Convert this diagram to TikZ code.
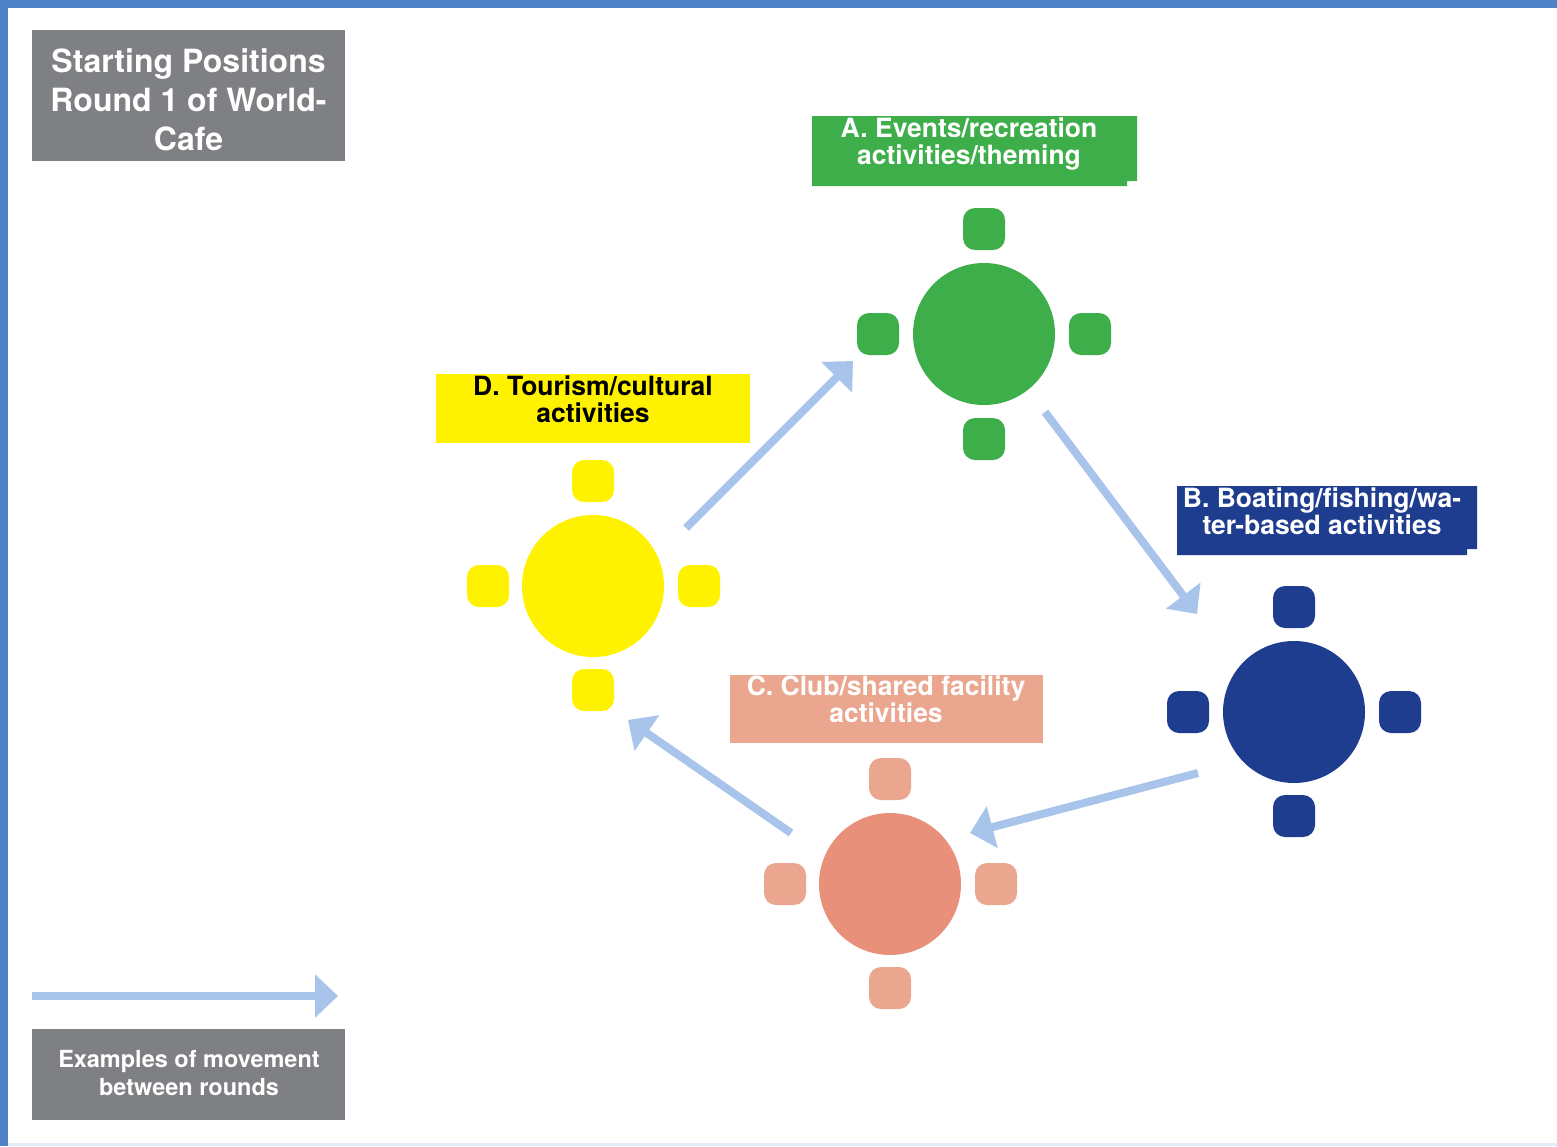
\documentclass[tikz,border=0pt]{standalone}
\usepackage{fontspec}
\setmainfont{TeX Gyre Heros}
\usetikzlibrary{arrows.meta}

\definecolor{frameblue}{HTML}{4F81C7}
\definecolor{boxgrey}{HTML}{7F8083}
\definecolor{tgreen}{HTML}{3DAE49}
\definecolor{tyellow}{HTML}{FFF200}
\definecolor{tnavy}{HTML}{1F3D8F}
\definecolor{tsalmon}{HTML}{E8907A}
\definecolor{lsalmon}{HTML}{EBA690}
\definecolor{arrowblue}{HTML}{A9C4EA}

\tikzset{
  table/.style={circle, fill=#1, minimum size=142pt, inner sep=0pt},
  chair/.style={rectangle, rounded corners=12pt, fill=#1, minimum width=42pt, minimum height=42pt, inner sep=0pt},
  bigtext/.style={text=white, font=\bfseries\fontsize{32}{39}\selectfont, align=center, inner sep=0pt},
  labeltext/.style={font=\bfseries\fontsize{26.5}{27}\selectfont, align=center, inner sep=0pt},
  smalltext/.style={text=white, font=\bfseries\fontsize{23.5}{28}\selectfont, align=center, inner sep=0pt},
  move/.style={draw=arrowblue, line width=8pt, -{Triangle[length=23pt, width=42pt]}},
}

\begin{document}
\begin{tikzpicture}[x=1pt, y=-1pt]
\useasboundingbox (0,0) rectangle (1557,1146);
\fill[white] (0,0) rectangle (1557,1146);

% frame
\fill[frameblue] (0,0) rectangle (1557,8);
\fill[frameblue] (0,0) rectangle (8,1146);
\fill[frameblue!15] (8,1143) rectangle (1557,1146);

% title box
\node[fill=boxgrey, minimum width=313pt, minimum height=131pt, inner sep=0pt] (titlebox) at (188.5,95.5) {};
\node[bigtext] (title) at (188.5,100) {Starting Positions\\Round 1 of World-\\Cafe};

% legend
\coordinate (legS) at (32,996);
\coordinate (legE) at (338,996);
\draw[move] (legS) -- (legE);
\node[fill=boxgrey, minimum width=313pt, minimum height=91pt, inner sep=0pt] (legbox) at (188.5,1074.5) {};
\node[smalltext] (legtext) at (189,1073) {Examples of movement\\between rounds};

% label boxes
\fill[tgreen] (812,116) -- (1137,116) -- (1137,181) -- (1127,181) -- (1127,186) -- (812,186) -- cycle;
\node[labeltext, text=white] (labA) at (969,144) {A. Events/recreation\\activities/theming};

\fill[tnavy] (1177,486) -- (1477,486) -- (1477,549) -- (1467,549) -- (1467,555) -- (1177,555) -- cycle;
\node[labeltext, text=white] (labB) at (1322,511) {B. Boating/fishing/wa-\\ter-based activities};

\node[fill=lsalmon, minimum width=313pt, minimum height=68pt, inner sep=0pt] (boxC) at (886.5,709) {};
\node[labeltext, text=white] (labC) at (886,699.5) {C. Club/shared facility\\activities};

\node[fill=tyellow, minimum width=314pt, minimum height=69pt, inner sep=0pt] (boxD) at (593,408.5) {};
\node[labeltext, text=black] (labD) at (593,399.5) {D. Tourism/cultural\\activities};

% table A
\node[table=tgreen] (tA) at (984,334) {};
\node[chair=tgreen] (aN) at (984,229) {};
\node[chair=tgreen] (aS) at (984,439) {};
\node[chair=tgreen] (aW) at (878,334) {};
\node[chair=tgreen] (aE) at (1090,334) {};

% table B
\node[table=tnavy] (tB) at (1294,712) {};
\node[chair=tnavy] (bN) at (1294,607) {};
\node[chair=tnavy] (bS) at (1294,816) {};
\node[chair=tnavy] (bW) at (1188,712) {};
\node[chair=tnavy] (bE) at (1400,712) {};

% table C
\node[table=tsalmon] (tC) at (890,884) {};
\node[chair=lsalmon] (cN) at (890,779) {};
\node[chair=lsalmon] (cS) at (890,988) {};
\node[chair=lsalmon] (cW) at (785,884) {};
\node[chair=lsalmon] (cE) at (996,884) {};

% table D
\node[table=tyellow] (tD) at (593,586) {};
\node[chair=tyellow] (dN) at (593,481) {};
\node[chair=tyellow] (dS) at (593,690) {};
\node[chair=tyellow] (dW) at (488,586) {};
\node[chair=tyellow] (dE) at (699,586) {};

% movement between tables
\coordinate (mDs) at (686,528);
\coordinate (mDe) at (853,361);
\coordinate (mAs) at (1045,412);
\coordinate (mAe) at (1197,614);
\coordinate (mBs) at (1198,773);
\coordinate (mBe) at (970,833);
\coordinate (mCs) at (791,833);
\coordinate (mCe) at (628,720);
\draw[move] (mDs) -- (mDe);
\draw[move] (mAs) -- (mAe);
\draw[move] (mBs) -- (mBe);
\draw[move] (mCs) -- (mCe);
\end{tikzpicture}
\end{document}
